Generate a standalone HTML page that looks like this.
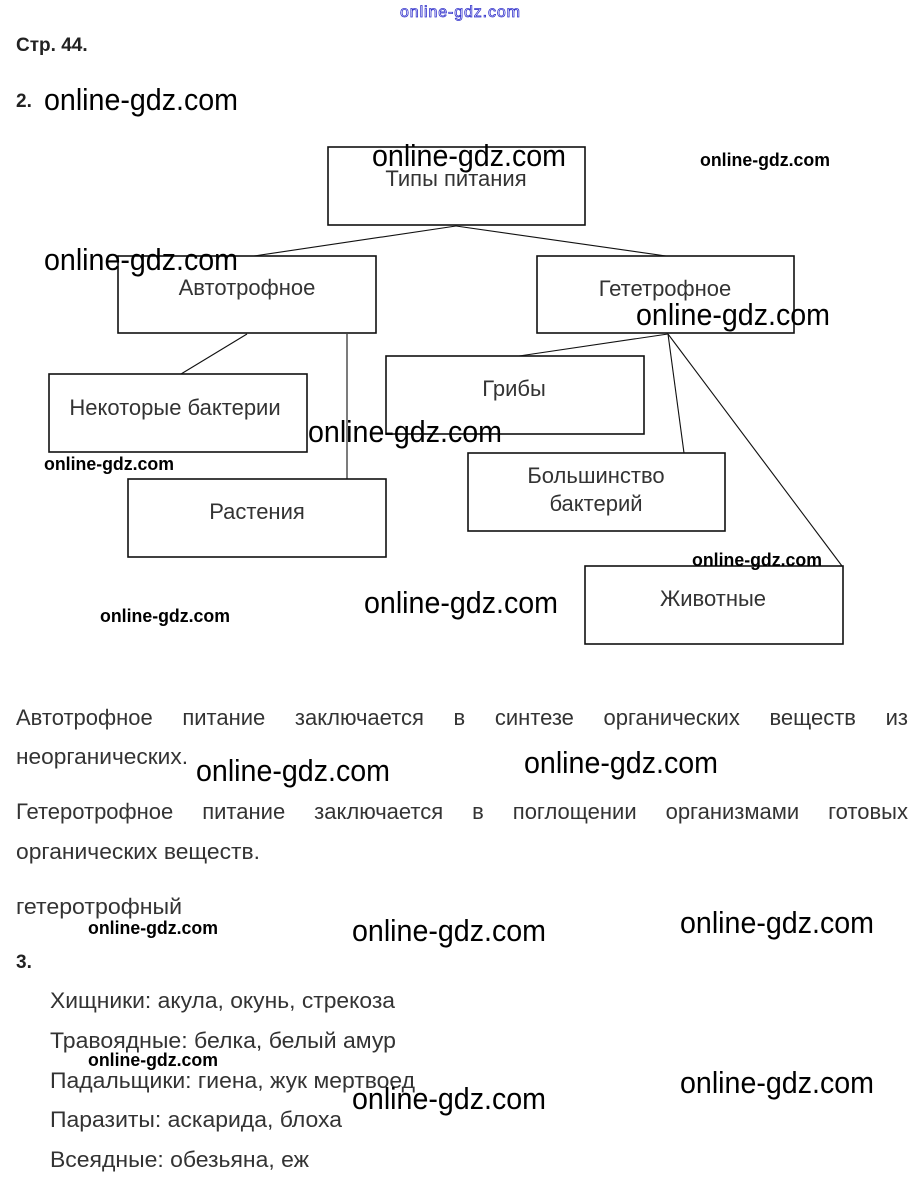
<!DOCTYPE html>
<html><head><meta charset="utf-8"><style>
html,body{margin:0;padding:0;background:#fff;}
body{position:relative;width:921px;height:1187px;overflow:hidden}
svg{display:block;position:absolute;left:0;top:0}
.t{font-family:"Liberation Sans",sans-serif;font-size:22px;fill:#333}
.b{font-family:"Liberation Sans",sans-serif;font-size:19px;font-weight:bold;fill:#222}
.w{font-family:"Liberation Sans",sans-serif;font-size:31px;fill:#000}
.s{font-family:"Liberation Sans",sans-serif;font-size:18px;font-weight:bold;fill:#000}
.j{position:absolute;left:16px;width:892px;font-family:"Liberation Sans",sans-serif;font-size:22px;line-height:22px;color:#333;white-space:nowrap;display:flex;justify-content:space-between}
</style></head><body>
<div class="j" style="top:707px"><span>Автотрофное</span><span>питание</span><span>заключается</span><span>в</span><span>синтезе</span><span>органических</span><span>веществ</span><span>из</span></div>
<div class="j" style="top:801px"><span>Гетеротрофное</span><span>питание</span><span>заключается</span><span>в</span><span>поглощении</span><span>организмами</span><span>готовых</span></div>
<svg width="921" height="1187" viewBox="0 0 921 1187">
<text x="400" y="17" font-family="Liberation Sans" font-size="16" fill="#fff" stroke="#33c" stroke-width="0.8" textLength="120">online-gdz.com</text>
<text class="b" x="16" y="51">Стр. 44.</text>
<text class="b" x="16" y="107">2.</text>
<g fill="none" stroke="#111" stroke-width="1.6">
<rect x="328" y="147" width="257" height="78"/>
<rect x="118" y="256" width="258" height="77"/>
<rect x="537" y="256" width="257" height="77"/>
<rect x="49" y="374" width="258" height="78"/>
<rect x="128" y="479" width="258" height="78"/>
<rect x="386" y="356" width="258" height="78"/>
<rect x="468" y="453" width="257" height="78"/>
<rect x="585" y="566" width="258" height="78"/>
</g>
<g stroke="#111" stroke-width="1.1">
<line x1="456" y1="226" x2="254" y2="256"/>
<line x1="456" y1="226" x2="666" y2="256"/>
<line x1="247" y1="334" x2="181" y2="374"/>
<line x1="347" y1="334" x2="347" y2="479"/>
<line x1="668" y1="334" x2="519" y2="356"/>
<line x1="668" y1="334" x2="684" y2="453"/>
<line x1="668" y1="334" x2="842" y2="566"/>
</g>
<g class="t" text-anchor="middle">
<text x="456" y="186">Типы питания</text>
<text x="247" y="295">Автотрофное</text>
<text x="665" y="296">Гететрофное</text>
<text x="175" y="415">Некоторые бактерии</text>
<text x="257" y="519">Растения</text>
<text x="514" y="396">Грибы</text>
<text x="596" y="483">Большинство</text>
<text x="596" y="511">бактерий</text>
<text x="713" y="606">Животные</text>
</g>
<text class="t" x="16" y="764" textLength="172" lengthAdjust="spacingAndGlyphs">неорганических.</text>
<text class="t" x="16" y="859" textLength="244" lengthAdjust="spacingAndGlyphs">органических веществ.</text>
<text class="t" x="16" y="914" textLength="166" lengthAdjust="spacingAndGlyphs">гетеротрофный</text>
<text class="b" x="16" y="968">3.</text>
<g class="t">
<text x="50" y="1008" textLength="345" lengthAdjust="spacingAndGlyphs">Хищники: акула, окунь, стрекоза</text>
<text x="50" y="1048" textLength="346" lengthAdjust="spacingAndGlyphs">Травоядные: белка, белый амур</text>
<text x="50" y="1088" textLength="365" lengthAdjust="spacingAndGlyphs">Падальщики: гиена, жук мертвоед</text>
<text x="50" y="1127" textLength="292" lengthAdjust="spacingAndGlyphs">Паразиты: аскарида, блоха</text>
<text x="50" y="1167" textLength="259" lengthAdjust="spacingAndGlyphs">Всеядные: обезьяна, еж</text>
</g>
<g class="w">
<text x="44" y="110" textLength="194" lengthAdjust="spacingAndGlyphs">online-gdz.com</text>
<text x="372" y="166" textLength="194" lengthAdjust="spacingAndGlyphs">online-gdz.com</text>
<text x="44" y="270" textLength="194" lengthAdjust="spacingAndGlyphs">online-gdz.com</text>
<text x="636" y="325" textLength="194" lengthAdjust="spacingAndGlyphs">online-gdz.com</text>
<text x="308" y="442" textLength="194" lengthAdjust="spacingAndGlyphs">online-gdz.com</text>
<text x="364" y="613" textLength="194" lengthAdjust="spacingAndGlyphs">online-gdz.com</text>
<text x="196" y="781" textLength="194" lengthAdjust="spacingAndGlyphs">online-gdz.com</text>
<text x="524" y="773" textLength="194" lengthAdjust="spacingAndGlyphs">online-gdz.com</text>
<text x="352" y="941" textLength="194" lengthAdjust="spacingAndGlyphs">online-gdz.com</text>
<text x="680" y="933" textLength="194" lengthAdjust="spacingAndGlyphs">online-gdz.com</text>
<text x="352" y="1109" textLength="194" lengthAdjust="spacingAndGlyphs">online-gdz.com</text>
<text x="680" y="1093" textLength="194" lengthAdjust="spacingAndGlyphs">online-gdz.com</text>
</g>
<g class="s">
<text x="700" y="166" textLength="130" lengthAdjust="spacingAndGlyphs">online-gdz.com</text>
<text x="44" y="470" textLength="130" lengthAdjust="spacingAndGlyphs">online-gdz.com</text>
<text x="692" y="566" textLength="130" lengthAdjust="spacingAndGlyphs">online-gdz.com</text>
<text x="100" y="622" textLength="130" lengthAdjust="spacingAndGlyphs">online-gdz.com</text>
<text x="88" y="934" textLength="130" lengthAdjust="spacingAndGlyphs">online-gdz.com</text>
<text x="88" y="1066" textLength="130" lengthAdjust="spacingAndGlyphs">online-gdz.com</text>
</g>
</svg>
</body></html>
